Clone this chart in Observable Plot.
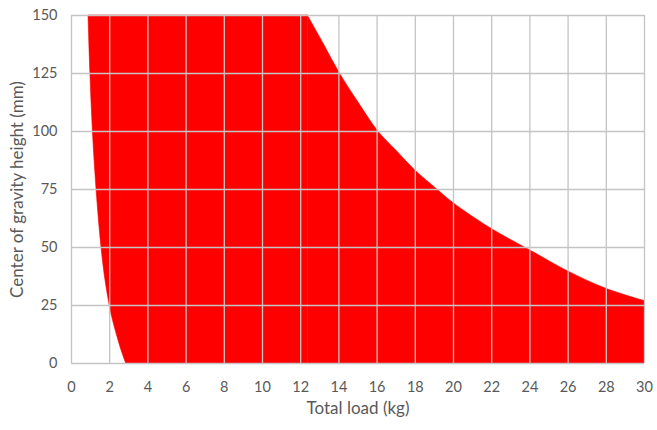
<!DOCTYPE html>
<html>
<head>
<meta charset="utf-8">
<script src="https://cdn.jsdelivr.net/npm/d3@7"></script>
<script src="https://cdn.jsdelivr.net/npm/@observablehq/plot@0.6"></script>
<style>
  html, body { margin: 0; padding: 0; background: #fff; }
  #chart { width: 657px; height: 430px; }
</style>
</head>
<body>
<div id="chart"></div>
<script>
// Left boundary (minimum load) : height -> load
const leftHeight = [0, 5.6, 12.8, 20, 25, 35.8, 50, 75, 100, 125, 150];
const leftLoad   = [2.86, 2.62, 2.36, 2.13, 2.0, 1.78, 1.57, 1.31, 1.12, 0.99, 0.89];
// Right boundary (maximum height for load)
const rightLoad   = [12.37, 13.2, 14.05, 15, 16.06, 17, 18, 19.15, 20, 22, 24, 26, 28, 30];
const rightHeight = [150, 137.8, 125, 112.8, 100, 91.8, 83.2, 75, 69.1, 58, 48.8, 39.7, 32.2, 26.9];
// Ticks and labels
const xTicks = d3.range(0, 31, 2);
const yTicks = [0, 25, 50, 75, 100, 125, 150];
const xLabel = "Total load (kg)";
const yLabel = "Center of gravity height (mm)";

const leftData = leftHeight.map((h, i) => ({h, load: leftLoad[i], edge: rightLoad[0]}));
const rightData = rightLoad.map((load, i) => ({load, h: rightHeight[i]}));

const textColor = "#595959";
const gridColor = "#c4c4c4";
const font = "Lato, 'Open Sans', sans-serif";

const chart = Plot.plot({
  width: 657,
  height: 430,
  marginLeft: 71,
  marginRight: 13,
  marginTop: 15,
  marginBottom: 67,
  x: {domain: [0, 30]},
  y: {domain: [0, 150]},
  style: {fontFamily: font, color: textColor, background: "#fff"},
  marks: [
    Plot.areaX(leftData, {y: "h", x1: "load", x2: "edge", fill: "#ff0000", stroke: "#ff0000", strokeWidth: 0.6, curve: "catmull-rom"}),
    Plot.areaY(rightData, {x: "load", y1: 0, y2: "h", fill: "#ff0000", stroke: "#ff0000", strokeWidth: 0.6, curve: "catmull-rom"}),
    Plot.ruleX(xTicks, {stroke: gridColor, strokeWidth: 1.3}),
    Plot.ruleY(yTicks, {stroke: gridColor, strokeWidth: 1.3}),
    Plot.axisX({ticks: xTicks, tickSize: 0, tickPadding: 18, fontSize: 14.5, label: null, tickFormat: d => String(d)}),
    Plot.axisY({ticks: yTicks, tickSize: 0, tickPadding: 14, fontSize: 14.5, label: null, tickFormat: d => String(d)}),
    Plot.text([xLabel], {frameAnchor: "bottom", dy: 50, fontSize: 17, fill: textColor, fontFamily: font, textAnchor: "middle"}),
    Plot.text([yLabel], {frameAnchor: "left", dx: -54, rotate: -90, fontSize: 17, fill: textColor, fontFamily: font, textAnchor: "middle"})
  ]
});
document.getElementById("chart").appendChild(chart);
</script>
</body>
</html>
